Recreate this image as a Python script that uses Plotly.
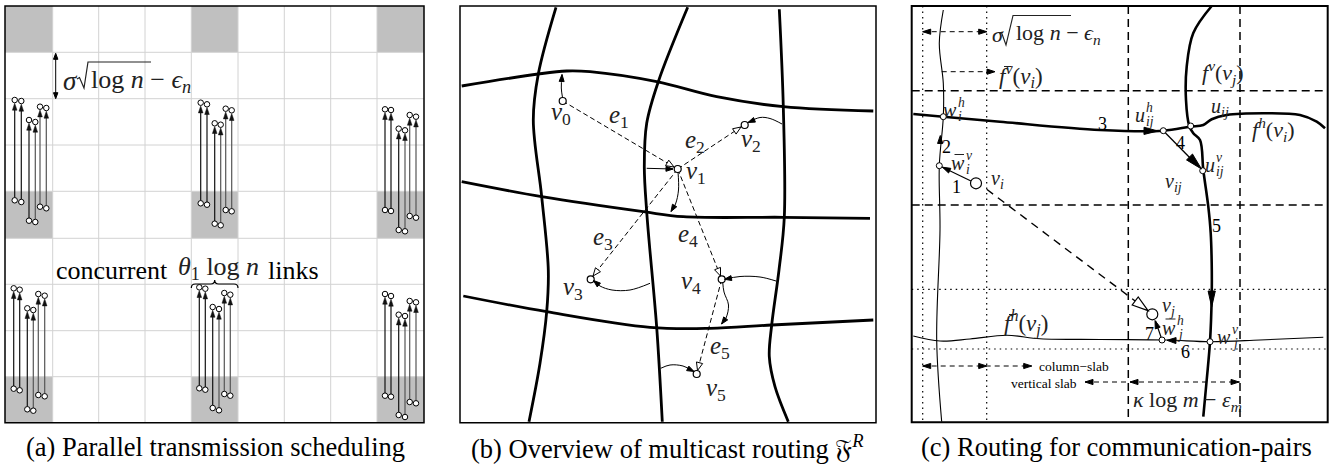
import math
import plotly.graph_objects as go

W, H = 1340, 466
SERIF = "Liberation Serif"
MATH = "#222222"

# ---------------- panel (a) data ----------------
a_grid_x = [5, 52.7, 98.7, 145, 191.3, 238, 284.3, 330.7, 377, 424]
a_grid_y = [6, 52.3, 98.7, 145, 191.3, 238.3, 284.3, 330.7, 376.7, 422.7]
a_gray_cols = [0, 4, 8]
a_gray_rows = [0, 4, 8]
a_link_x = [
    [14.7, 21.3, 29, 35.3, 40, 46.3],
    [200.7, 207, 214.7, 220.7, 225.7, 231.7],
    [385, 391, 398.7, 405, 409.7, 416],
    [13.7, 19.7, 27.3, 33.3, 38.3, 44.7],
    [199.3, 205.3, 212.7, 219, 224.3, 230.3],
    [385, 391, 398.7, 405, 409.7, 416],
]
a_link_top = [
    [100, 101, 120, 122, 106.7, 108],
    [102.7, 104.3, 123.3, 124.7, 108.7, 110.3],
    [109.3, 110, 128.7, 130.3, 115, 116.7],
    [288.3, 289.7, 308.3, 310, 294, 295.7],
    [287.3, 288.7, 307, 309, 293, 294.7],
    [294, 296, 314.7, 316, 301, 302.3],
]
a_link_bot = [
    [200.3, 202, 220.7, 222, 206.7, 208.3],
    [203.3, 204.7, 223.7, 225.3, 210, 211.3],
    [210, 211, 230, 231.3, 216, 217.7],
    [388.7, 390.3, 409.3, 410.7, 395, 396.3],
    [388.3, 389.7, 408, 410.3, 394, 395.7],
    [395.7, 396.7, 415, 417, 402, 403.3],
]

# ---------------- panel (b) data ----------------
b_box = [460, 6, 876, 422.7]
b_h1 = [(461.7, 86), (538.3, 74), (566.7, 71), (590, 71.7), (656.7, 81.7), (716.7, 96.7), (783.3, 106.7), (873.3, 111)]
b_h2 = [(461.7, 181.7), (541.7, 196.7), (643.3, 211.7), (683.3, 216.7), (783.3, 217.3), (870, 218.3)]
b_h3 = [(463.3, 296), (546.7, 311.7), (650, 327.3), (710, 328.3), (771.7, 325), (873.3, 320)]
b_v1 = [(556, 7.3), (538.3, 74), (533.3, 120), (541.7, 196.7), (548.3, 270), (546.7, 311.7), (540, 363.3), (529, 421.7)]
b_v2 = [(687.7, 7.3), (658.3, 81.7), (646.7, 123.3), (644.3, 166.7), (646.7, 211.7), (649, 240), (656.7, 327.3), (662.3, 421.7)]
b_v3 = [(779.3, 9.3), (783.3, 106.7), (784.3, 217.3), (779, 270), (771.7, 325), (769.3, 356.7), (775, 386.7), (788.3, 421.7)]
b_node_names = ["v0", "v1", "v2", "v3", "v4", "v5"]
b_node_x = [562.7, 677.7, 744.7, 590.7, 721.7, 696.7]
b_node_y = [101, 169, 125, 279.3, 279.3, 374]
b_edges = [(0, 1), (1, 2), (1, 3), (1, 4), (4, 5)]
b_edge_tips = [(674, 167), (741, 127), (593, 276), (720.5, 276), (697.5, 370.5)]
b_node_label = ["<i>v</i><sub>0</sub>", "<i>v</i><sub>1</sub>", "<i>v</i><sub>2</sub>",
                "<i>v</i><sub>3</sub>", "<i>v</i><sub>4</sub>", "<i>v</i><sub>5</sub>"]
b_node_label_xy = [(561, 113), (695.5, 172), (751, 140), (573, 288), (691, 282), (715.5, 389)]
b_edge_label = ["<i>e</i><sub>1</sub>", "<i>e</i><sub>2</sub>", "<i>e</i><sub>3</sub>",
                "<i>e</i><sub>4</sub>", "<i>e</i><sub>5</sub>"]
b_edge_label_xy = [(619, 116), (695, 141), (603, 238), (687.5, 235), (720, 347)]
b_curl = [
    [(562.5, 97.5), (561.3, 88), (562, 74.5)],
    [(646.7, 168.3), (673, 169)],
    [(678, 172), (678.5, 190), (675.5, 204), (671, 211.5)],
    [(782, 124), (770, 118.5), (760, 117.5), (748, 122.5)],
    [(650, 283.3), (630, 290), (612, 290), (600, 286), (593.5, 280.5)],
    [(776, 281), (760, 277), (740, 276.5), (724.5, 279.3)],
    [(722.7, 282), (724, 292), (728.5, 305), (726, 318), (721.5, 324)],
    [(660.7, 368.3), (670, 365), (683, 366), (694, 371.5)],
]

# ---------------- panel (c) data ----------------
c_box = [911.7, 6, 1327.7, 422.3]
c_dash_vx = [1128.3, 1240]
c_dash_hy = [90.7, 205]
c_dot_vx = [922.7, 986.7]
c_dot_hy = [289.3, 349]
c_fv_bar = [(943.3, 10), (939.3, 43.3), (943.3, 83.3), (943.3, 116.7), (939.3, 165.7), (940, 230), (936.7, 340), (941.7, 421.7)]
c_fh = [(913.3, 114), (943.3, 116.7), (1000, 121.7), (1100, 130), (1163.3, 130.7), (1190, 126.7), (1203.3, 125),
        (1211.7, 119.3), (1226.7, 115), (1266.7, 113.3), (1300, 115), (1316.7, 121.7), (1325, 128.3)]
c_fv = [(1211.7, 6), (1193.3, 33), (1186.7, 66.7), (1186, 100), (1189.3, 126), (1193.3, 133.3), (1200, 140),
        (1203.3, 170), (1208.3, 206.7), (1210.7, 233), (1211.7, 263.3), (1211.7, 296.7), (1210, 341.7),
        (1206.7, 380), (1203.3, 416.7)]
c_fh_bar = [(913.3, 336), (940, 341), (970, 339), (1006.7, 335.3), (1040, 338.7), (1100, 339.5),
            (1166.7, 340), (1210, 341.7), (1260, 340), (1323.3, 337.3)]
c_small_x = [943.3, 939.3, 1163.3, 1190.7, 1202.7, 1162, 1210]
c_small_y = [116.7, 165.7, 130.7, 126, 170.7, 340, 341.7]
c_big_x = [976, 1152.3]
c_big_y = [183.3, 314.3]
c_numbers = ["1", "2", "3", "4", "5", "6", "7"]
c_number_xy = [(956, 186.7), (946.7, 146.7), (1102.7, 124.3), (1180.5, 143.3), (1216.7, 225.8), (1185.8, 352), (1149.7, 334)]

captions = ["(a) Parallel transmission scheduling",
            "(b) Overview of multicast routing 𝔉<sup><i>R</i></sup>",
            "(c) Routing for communication-pairs"]
caption_x = [215, 667, 1116]

fig = go.Figure()
shapes = []
annos = []


def line(pts, width=1.0, color="black", dash="solid", spline=False):
    fig.add_trace(go.Scatter(
        x=[p[0] for p in pts], y=[p[1] for p in pts], mode="lines",
        line=dict(color=color, width=width, dash=dash,
                  shape="spline" if spline else "linear", smoothing=1.0),
        hoverinfo="skip", showlegend=False))


def head(x0, y0, x1, y1, L=8, hw=3, filled=True, color="black", lw=1):
    dx, dy = x1 - x0, y1 - y0
    d = math.hypot(dx, dy) or 1
    ux, uy = dx / d, dy / d
    px, py = -uy, ux
    bx, by = x1 - L * ux, y1 - L * uy
    path = (f"M {x1:.2f},{y1:.2f} L {bx + hw * px:.2f},{by + hw * py:.2f} "
            f"L {bx - hw * px:.2f},{by - hw * py:.2f} Z")
    shapes.append(dict(type="path", path=path, xref="x", yref="y", layer="above",
                       fillcolor=color if filled else "white",
                       line=dict(color=color, width=lw)))


def text(x, y, s, size=20, xa="center", ya="middle", color="black"):
    annos.append(dict(x=x, y=y, xref="x", yref="y", text=s, showarrow=False,
                      xanchor=xa, yanchor=ya, borderpad=0,
                      font=dict(family=SERIF, size=size, color=color)))


def stacked(x, y, base, sup, sub, size=20):
    text(x, y, base, size, xa="right", color=MATH)
    text(x - 1, y - 0.40 * size, sup, size * 0.68, xa="left", color=MATH)
    text(x - 1, y + 0.30 * size, sub, size * 0.68, xa="left", color=MATH)


def overbar(x0, x1, y):
    shapes.append(dict(type="line", x0=x0, x1=x1, y0=y, y1=y, xref="x", yref="y",
                       line=dict(color=MATH, width=1)))


def nodes(xs, ys, size=6, lw=1):
    fig.add_trace(go.Scatter(x=xs, y=ys, mode="markers",
                             marker=dict(size=size, color="white", line=dict(color="black", width=lw)),
                             hoverinfo="skip", showlegend=False))


def rect(x0, y0, x1, y1, lw=1.5, fill=None, color="black", layer="above"):
    shapes.append(dict(type="rect", x0=x0, y0=y0, x1=x1, y1=y1, xref="x", yref="y",
                       line=dict(color=color, width=lw), fillcolor=fill, layer=layer))


def seg(x0, y0, x1, y1, lw=1, color="black", dash="solid", layer="above"):
    shapes.append(dict(type="line", x0=x0, y0=y0, x1=x1, y1=y1, xref="x", yref="y",
                       line=dict(color=color, width=lw, dash=dash), layer=layer))


# ================= panel (a) =================
for c in a_gray_cols:
    for r in a_gray_rows:
        rect(a_grid_x[c], a_grid_y[r], a_grid_x[c + 1], a_grid_y[r + 1], lw=0, fill="#c0c0c0", layer="below")
for gx in a_grid_x[1:-1]:
    seg(gx, a_grid_y[0], gx, a_grid_y[-1], lw=1, color="#d2d2d2", layer="below")
for gy in a_grid_y[1:-1]:
    seg(a_grid_x[0], gy, a_grid_x[-1], gy, lw=1, color="#d2d2d2", layer="below")
rect(a_grid_x[0], a_grid_y[0], a_grid_x[-1], a_grid_y[-1], lw=1.5)

cx, cy = [], []
for g in range(len(a_link_x)):
    for k in range(6):
        x = a_link_x[g][k]
        t = a_link_top[g][k]
        b = a_link_bot[g][k]
        col = "#111111" if k < 3 else "#555555"
        line([(x, b - 2.5), (x, t + 9)], width=1.2, color=col)
        head(x, b, x, t + 3.2, L=7, hw=2.3, color="#111111", lw=0.5)
        cx += [x, x]
        cy += [t, b]
nodes(cx, cy, size=5.5, lw=1)

# sigma sqrt annotation (a)
seg(55.7, 58, 55.7, 94, lw=1)
head(55.7, 70, 55.7, 53.3, L=6, hw=2.2)
head(55.7, 80, 55.7, 98.7, L=6, hw=2.2)
text(62, 81, "<i>σ</i>", 27, xa="left", color=MATH)
shapes.append(dict(type="path", path="M 77,79 L 79.5,77.5 L 84,88 L 88,62 L 151,62",
                   xref="x", yref="y", line=dict(color=MATH, width=1.2)))
text(90, 81, "log <i>n</i> − <i>ϵ</i><sub><i>n</i></sub>", 26, xa="left", color=MATH)

# concurrent links
text(55, 270, "concurrent", 26, xa="left")
text(176.7, 268, "<i>θ</i><sub>1</sub> log <i>n</i>", 26, xa="left", color=MATH)
text(266.7, 270, "links", 26, xa="left")
shapes.append(dict(type="path",
                   path="M 191.3,288 Q 191.3,284 195.3,284 L 210.7,284 Q 214.7,284 214.7,280 "
                        "Q 214.7,284 218.7,284 L 234,284 Q 238,284 238,288",
                   xref="x", yref="y", line=dict(color="black", width=1.2)))

# ================= panel (b) =================
rect(*b_box, lw=1.5)
for crv in [b_h1, b_h2, b_h3, b_v1, b_v2, b_v3]:
    line(crv, width=2.8, spline=True)
for (i, j), tip in zip(b_edges, b_edge_tips):
    x0, y0 = b_node_x[i], b_node_y[i]
    line([(x0, y0), tip], width=1, dash="5px,3px")
    head(x0, y0, tip[0], tip[1], L=8, hw=3.2, filled=False, lw=1)
for crv in b_curl:
    line(crv, width=1, spline=True)
    head(crv[-2][0], crv[-2][1], crv[-1][0], crv[-1][1], L=7, hw=2.5)
nodes(b_node_x, b_node_y, size=7, lw=1.2)
for s, (x, y) in zip(b_node_label, b_node_label_xy):
    text(x, y, s, 25, color=MATH)
for s, (x, y) in zip(b_edge_label, b_edge_label_xy):
    text(x, y, s, 25, color=MATH)

# ================= panel (c) =================
for vx in c_dash_vx:
    seg(vx, c_box[1], vx, c_box[3], lw=1.5, dash="8px,5px")
for hy in c_dash_hy:
    seg(c_box[0], hy, c_box[2], hy, lw=1.5, dash="8px,5px")
for vx in c_dot_vx:
    seg(vx, c_box[1], vx, c_box[3], lw=1.2, dash="1.5px,4px")
for hy in c_dot_hy:
    seg(c_box[0], hy, c_box[2], hy, lw=1.2, dash="1.5px,4px")
rect(*c_box, lw=2)

line(c_fv_bar, width=1.1, spline=True)
line(c_fh_bar, width=1.1, spline=True)
line(c_fh, width=2.6, spline=True)
line(c_fv, width=2.6, spline=True)

# route arrows
head(1140, 130.8, 1158, 131, L=14, hw=3.6)            # 3
line([(1163.3, 130.7), (1196, 164)], width=1.3)        # 4
head(1163.3, 130.7, 1201.5, 169, L=17, hw=4.2)
head(1211.7, 280, 1211.7, 307, L=16, hw=3.6)           # 5
head(1190, 341, 1167, 340.3, L=9, hw=3)                # 6
line([(1161, 337), (1155.5, 321)], width=1.2)          # 7
head(1161, 337, 1155, 320.5, L=8, hw=2.6)
head(940, 152, 940.3, 135.5, L=8, hw=2.6)              # 2
line([(972, 181.5), (942, 167)], width=1.2)            # 1
head(972, 181.5, 942.5, 167.2, L=8, hw=2.6)
# dashed v_i -> v_j
line([(986.7, 189.3), (1146.5, 309.5)], width=1.4, dash="8px,6px")
head(986.7, 189.3, 1148, 310.6, L=16, hw=5, filled=False, lw=1.2)

nodes(c_small_x, c_small_y, size=6, lw=1)
nodes(c_big_x, c_big_y, size=11, lw=1.2)

# dimension arrows
line([(922.7, 31.7), (986.7, 31.7)], width=1, dash="5px,4px")
head(940, 31.7, 922.7, 31.7, L=8, hw=2.6)
head(970, 31.7, 986.7, 31.7, L=8, hw=2.6)
line([(941.7, 71.7), (995, 71.7)], width=1, dash="5px,4px")
head(980, 71.7, 995, 71.7, L=8, hw=2.6)
line([(922.7, 366), (1031.7, 366)], width=1, dash="5px,4px")
head(940, 366, 922.7, 366, L=8, hw=2.6)
head(970, 366, 986.7, 366, L=8, hw=2.6)
head(1015, 366, 1031.7, 366, L=8, hw=2.6)
line([(1085, 382), (1240, 382)], width=1, dash="5px,4px")
head(1100, 382, 1085, 382, L=8, hw=2.6)
head(1145, 382, 1130, 382, L=8, hw=2.6)
head(1220, 382, 1239, 382, L=8, hw=2.6)

text(991, 34, "<i>σ</i>", 22, xa="left", color=MATH)
shapes.append(dict(type="path", path="M 999.5,34 L 1001.5,32.5 L 1006,45 L 1013,15.5 L 1071,15.5",
                   xref="x", yref="y", line=dict(color=MATH, width=1.1)))
text(1015, 34, "log <i>n</i> − <i>ϵ</i><sub><i>n</i></sub>", 22, xa="left", color=MATH)
text(998, 75, "<i>f</i><sup><i>v</i></sup>(<i>v</i><sub><i>i</i></sub>)", 23, xa="left", color=MATH)
overbar(1004, 1011, 66.5)
text(1223, 72.5, "<i>f</i><sup><i>v</i></sup>(<i>v</i><sub><i>j</i></sub>)", 22, color=MATH)
text(1273, 129, "<i>f</i><sup><i>h</i></sup>(<i>v</i><sub><i>i</i></sub>)", 22, color=MATH)
text(1003, 323, "<i>f</i><sup><i>h</i></sup>(<i>v</i><sub><i>j</i></sub>)", 23, xa="left", color=MATH)
overbar(1009, 1016, 314.5)
stacked(957.5, 110, "<i>w</i>", "<i>h</i>", "<i>i</i>", 20)
stacked(965.5, 163, "<i>w</i>", "<i>v</i>", "<i>i</i>", 20)
overbar(954.5, 964, 154.5)
stacked(1145.5, 115, "<i>u</i>", "<i>h</i>", "<i>ij</i>", 20)
stacked(1215.5, 165, "<i>u</i>", "<i>v</i>", "<i>ij</i>", 20)
stacked(1177, 328, "<i>w</i>", "<i>h</i>", "<i>j</i>", 20)
overbar(1165.5, 1175.5, 319)
stacked(1231.5, 337, "<i>w</i>", "<i>v</i>", "<i>j</i>", 20)
text(1220, 107, "<i>u</i><sub><i>ij</i></sub>", 20, color=MATH)
text(1173, 182.5, "<i>v</i><sub><i>ij</i></sub>", 20, color=MATH)
text(997.7, 179, "<i>v</i><sub><i>i</i></sub>", 20, color=MATH)
text(1168, 306, "<i>v</i><sub><i>j</i></sub>", 20, color=MATH)
for s, (x, y) in zip(c_numbers, c_number_xy):
    text(x, y, s, 18)
text(1038.3, 366, "column−slab", 13.5, xa="left")
text(1078, 383.5, "vertical slab", 13.5, xa="right")
text(1187, 400.5, "<i>κ</i> log <i>m</i> − <i>ε</i><sub><i>m</i></sub>", 22, color=MATH)

for s, x in zip(captions, caption_x):
    text(x, 447, s, 26.5)

fig.update_layout(
    width=W, height=H, margin=dict(l=0, r=0, t=0, b=0),
    paper_bgcolor="white", plot_bgcolor="white",
    xaxis=dict(range=[0, W], visible=False, fixedrange=True),
    yaxis=dict(range=[H, 0], visible=False, fixedrange=True),
    shapes=shapes, annotations=annos, showlegend=False,
)
fig.write_html("out.html", config={"displayModeBar": False},
               post_script="document.body.style.margin='0';document.body.style.overflow='hidden';")
